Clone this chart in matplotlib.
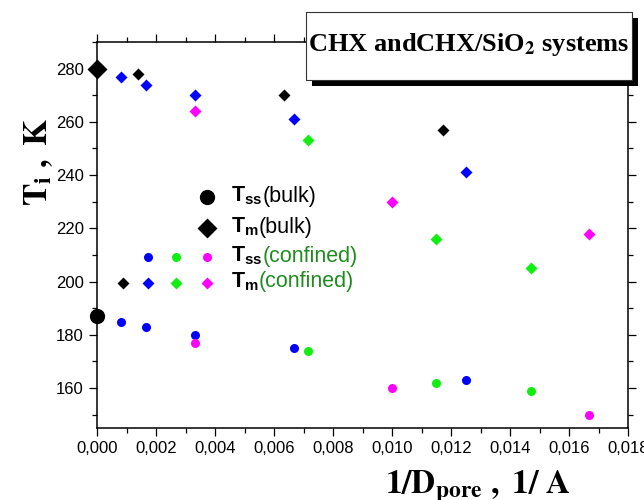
import matplotlib
matplotlib.use("Agg")
import matplotlib.pyplot as plt
import matplotlib.patches as patches
from matplotlib.ticker import MultipleLocator, FuncFormatter
from matplotlib.offsetbox import TextArea, HPacker, AnnotationBbox

plt.rcParams['font.family'] = ['Liberation Sans', 'DejaVu Sans']
plt.rcParams['mathtext.fontset'] = 'custom'
plt.rcParams['mathtext.rm'] = 'Liberation Sans'
plt.rcParams['mathtext.bf'] = 'Liberation Sans:bold'

# bulk values (x = 0)
bulk_x = [0.0]
bulk_tss = [187]
bulk_tm = [280]

# confined, by colour
blue_x = [0.0008, 0.00167, 0.00333, 0.00667, 0.0125]
blue_tss = [185, 183, 180, 175, 163]
blue_tm = [277, 274, 270, 261, 241]

green_x = [0.00714, 0.0115, 0.0147]
green_tss = [174, 162, 159]
green_tm = [253, 216, 205]

magenta_x = [0.00333, 0.01, 0.01667]
magenta_tss = [177, 160, 150]
magenta_tm = [264, 230, 218]

black_x = [0.00138, 0.00635, 0.01173]
black_tm = [278, 270, 257]

BLUE = '#0000ff'
GREEN = '#11ee11'
MAGENTA = '#ff00ff'
TXTGREEN = '#1e8c1e'

fig = plt.figure(figsize=(6.44, 5), dpi=100)
ax = fig.add_axes([97/644, 1 - 428/500, 531/644, 386/500])

ms_o, ms_d = 6.5, 6
ax.plot(blue_x, blue_tss, 'o', color=BLUE, ms=ms_o, mec='none', clip_on=False)
ax.plot(blue_x, blue_tm, 'D', color=BLUE, ms=ms_d, mec='none', clip_on=False)
ax.plot(green_x, green_tss, 'o', color=GREEN, ms=ms_o, mec='none', clip_on=False)
ax.plot(green_x, green_tm, 'D', color=GREEN, ms=ms_d, mec='none', clip_on=False)
ax.plot(magenta_x, magenta_tss, 'o', color=MAGENTA, ms=ms_o, mec='none', clip_on=False)
ax.plot(magenta_x, magenta_tm, 'D', color=MAGENTA, ms=ms_d, mec='none', clip_on=False)
ax.plot(black_x, black_tm, 'D', color='black', ms=ms_d, mec='none', clip_on=False)
ax.plot(bulk_x, bulk_tss, 'o', color='black', ms=11, mec='none', clip_on=False, zorder=5)
ax.plot(bulk_x, bulk_tm, 'D', color='black', ms=10, mec='none', clip_on=False, zorder=5)

ax.set_xlim(0, 0.018)
ax.set_ylim(145, 290)
ax.xaxis.set_major_locator(MultipleLocator(0.002))
ax.xaxis.set_minor_locator(MultipleLocator(0.001))
ax.yaxis.set_major_locator(MultipleLocator(20))
ax.yaxis.set_minor_locator(MultipleLocator(10))
ax.xaxis.set_major_formatter(FuncFormatter(lambda v, p: f'{v:.3f}'.replace('.', ',')))
ax.tick_params(which='both', direction='out', top=True, right=True,
               labeltop=False, labelright=False, width=0.9, labelsize=12)
ax.tick_params(which='major', length=6)
ax.tick_params(which='minor', length=3.5)
for s in ax.spines.values():
    s.set_linewidth(1.1)

ax.set_xlabel(r'$\mathbf{1/D_{pore}\ ,\ 1/\ A}$', fontsize=24, math_fontfamily='stix')
ax.xaxis.set_label_coords(0.717, -0.105)
ax.set_ylabel(r'$\mathbf{T_i\ ,\ K}$', fontsize=24, math_fontfamily='stix')
ax.yaxis.set_label_coords(-0.08, 0.69)

# legend, drawn by hand
rows = [
    ([None, None, None, ('o', 'black', 11)], r'$\mathbf{T_{ss}}$', '(bulk)', 'black'),
    ([None, None, None, ('D', 'black', 10)], r'$\mathbf{T_m}$', '(bulk)', 'black'),
    ([None, ('o', BLUE, ms_o), ('o', GREEN, ms_o), ('o', MAGENTA, ms_o)], r'$\mathbf{T_{ss}}$', '(confined)', TXTGREEN),
    ([('D', 'black', ms_d), ('D', BLUE, ms_d), ('D', GREEN, ms_d), ('D', MAGENTA, ms_d)], r'$\mathbf{T_m}$', '(confined)', TXTGREEN),
]
row_y = [0.598, 0.518, 0.443, 0.376]
mark_x = [0.049, 0.096, 0.149, 0.207]
for (marks, sym, tail, tcol), yy in zip(rows, row_y):
    for mk, xx in zip(marks, mark_x):
        if mk is None:
            continue
        ax.plot([xx], [yy], mk[0], color=mk[1], ms=mk[2], mec='none',
                transform=ax.transAxes, clip_on=False)
    box = HPacker(children=[TextArea(sym, textprops=dict(fontsize=15.5, color='black')),
                            TextArea(tail, textprops=dict(fontsize=15.5, color=tcol))],
                  align='baseline', pad=0, sep=0)
    ab = AnnotationBbox(box, (0.252, yy), xycoords='axes fraction',
                        box_alignment=(0, 0.45), frameon=False, pad=0)
    ax.add_artist(ab)

# title box with shadow
bx, by, bw, bh = 306/644, 1 - 80/500, 326/644, 68/500
fig.patches.append(patches.Rectangle((bx + 6/644, by - 6/500), bw, bh, transform=fig.transFigure,
                                     facecolor='black', edgecolor='none', zorder=3))
fig.patches.append(patches.Rectangle((bx, by), bw, bh, transform=fig.transFigure,
                                     facecolor='white', edgecolor='#333333', lw=0.8, zorder=4))
fig.text(bx + bw/2, by + bh/2 + 0.004, r'CHX andCHX/SiO$_\mathbf{2}$ systems', ha='center', va='center',
         fontsize=19, fontweight='bold', family='Liberation Serif', math_fontfamily='stix',
         zorder=5)

fig.savefig('out.png', dpi=100)
